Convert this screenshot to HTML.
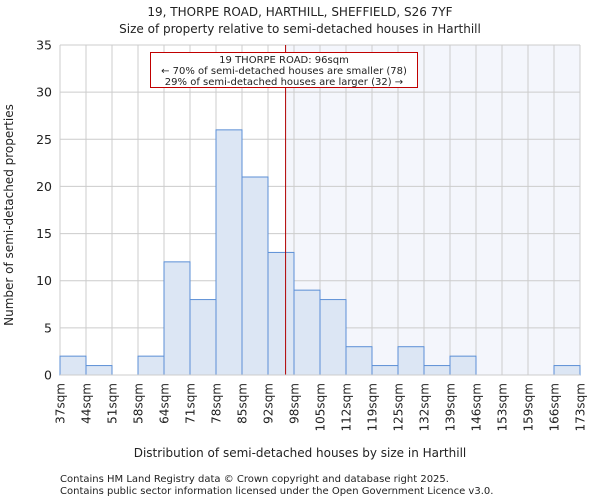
<!DOCTYPE html>
<html><head><meta charset="utf-8"><style>
body{margin:0;background:#fff;font-family:"DejaVu Sans","Liberation Sans",sans-serif}
text{font-family:"DejaVu Sans","Liberation Sans",sans-serif;fill:#222}
</style></head><body>
<svg id="c" width="600" height="500" xmlns="http://www.w3.org/2000/svg">
<text x="300" y="16" text-anchor="middle" font-size="12">19, THORPE ROAD, HARTHILL, SHEFFIELD, S26 7YF</text>
<text x="300" y="33" text-anchor="middle" font-size="12">Size of property relative to semi-detached houses in Harthill</text>
<g id="plot"></g>
<text x="300" y="457" text-anchor="middle" font-size="12">Distribution of semi-detached houses by size in Harthill</text>
<text transform="translate(13,215) rotate(-90)" text-anchor="middle" font-size="12">Number of semi-detached properties</text>
<text x="60" y="482" font-size="10">Contains HM Land Registry data © Crown copyright and database right 2025.</text>
<text x="60" y="494" font-size="10">Contains public sector information licensed under the Open Government Licence v3.0.</text>
</svg>
<script>
const tickLabels=["37sqm","44sqm","51sqm","58sqm","64sqm","71sqm","78sqm","85sqm","92sqm","98sqm","105sqm","112sqm","119sqm","125sqm","132sqm","139sqm","146sqm","153sqm","159sqm","166sqm","173sqm"];
const counts=[2,1,0,2,12,8,26,21,13,9,8,3,1,3,1,2,0,0,0,1];
const yTicks=[0,5,10,15,20,25,30,35];
const binStart=37, binWidth=6.8;
const subjectSize=96;
const L=60,R=580,T=45,B=375,yMax=35;
const NS="http://www.w3.org/2000/svg";
const g=document.getElementById('plot');
const n=counts.length;
const xi=i=>L+(R-L)*i/n;
const xv=v=>L+(v-binStart)/binWidth*(R-L)/n;
const y=v=>B-(B-T)*v/yMax;
function mk(t,a){const e=document.createElementNS(NS,t);for(const k in a)e.setAttribute(k,a[k]);g.appendChild(e);return e;}
const sx=xv(subjectSize);
let e=mk('rect',{x:sx,y:T,width:R-sx,height:B-T,fill:'#f4f6fc'});


yTicks.forEach(v=>{
 let l=mk('line',{x1:L,x2:R,y1:y(v),y2:y(v),stroke:'#ccc','stroke-width':1});
 
 
 let t=mk('text',{x:L-8,y:y(v)+4.5,'text-anchor':'end','font-size':12.5});
 t.textContent=v;
 
 
});
tickLabels.forEach((s,i)=>{
 let l=mk('line',{x1:xi(i),x2:xi(i),y1:T,y2:B,stroke:'#ccc','stroke-width':1});
 
 
 let t=mk('text',{transform:`translate(${xi(i)+4.5},${B+8}) rotate(-90)`,'text-anchor':'end','font-size':12});
 t.textContent=s;
 
 
});
counts.forEach((c,i)=>{
 if(c<=0)return;
 let r=mk('rect',{x:xi(i),y:y(c),width:xi(i+1)-xi(i),height:B-y(c),fill:'#dce6f4',stroke:'#5b8fd6','stroke-width':1});
 
 
});
e=mk('line',{x1:sx,x2:sx,y1:T,y2:B,stroke:'#b00000','stroke-width':1});


e=mk('rect',{x:150.5,y:52.5,width:267,height:35,fill:'#fff',stroke:'#c00000','stroke-width':1});


[["19 THORPE ROAD: 96sqm",63],["← 70% of semi-detached houses are smaller (78)",74],["29% of semi-detached houses are larger (32) →",85]].forEach(([s,yy])=>{
 let t=mk('text',{x:284,y:yy,'text-anchor':'middle','font-size':10});
 t.textContent=s;
 
 
});
e=mk('line',{x1:L,x2:R,y1:B,y2:B,stroke:'#ccc'});


</script>
</body></html>
